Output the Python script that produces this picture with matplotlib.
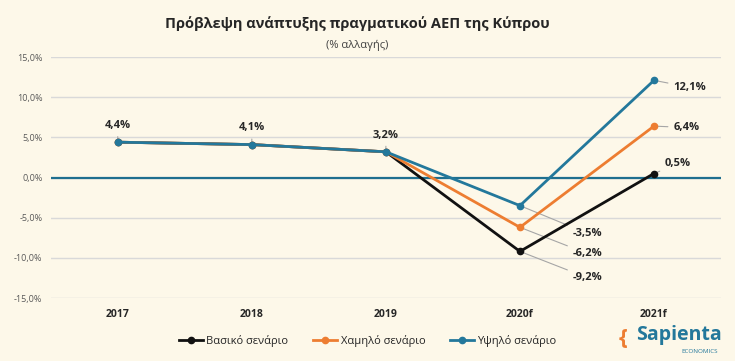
import numpy as np
import matplotlib.pyplot as plt

# --- data ---
years = ["2017", "2018", "2019", "2020f", "2021f"]
basic = [4.4, 4.1, 3.2, -9.2, 0.5]
low = [4.4, 4.1, 3.2, -6.2, 6.4]
high = [4.4, 4.1, 3.2, -3.5, 12.1]
yticks = [15, 10, 5, 0, -5, -10, -15]

bg = "#fdf8e9"
c_basic = "#111111"
c_low = "#ed7d31"
c_high = "#23789b"

plt.rcParams['font.family'] = ['Open Sans', 'DejaVu Sans']

fig = plt.figure(figsize=(7.35, 3.61), dpi=100, facecolor=bg)
ax = fig.add_axes([0.069, 0.1745, 0.912, 0.6675], facecolor=bg)

x = np.arange(len(years))
ax.plot(x, basic, c=c_basic, lw=2, marker='o', ms=4.5, label='Βασικό σενάριο', zorder=4)
ax.plot(x, low, c=c_low, lw=2, marker='o', ms=4.5, label='Χαμηλό σενάριο', zorder=4)
ax.plot(x, high, c=c_high, lw=2, marker='o', ms=4.5, label='Υψηλό σενάριο', zorder=5)

ax.set_xlim(-0.5, 4.5)
ax.set_ylim(-15, 15)
ax.set_yticks(yticks)
ax.set_yticklabels([f"{v:.1f}%".replace('.', ',') for v in yticks], fontsize=6.5, color='#595959')
ax.set_xticks(x)
ax.set_xticklabels(years, fontsize=7.5, fontweight='bold', color='#262626')
ax.tick_params(length=0)
ax.tick_params(axis='x', pad=8)
ax.tick_params(axis='y', pad=6)
for s in ax.spines.values():
    s.set_visible(False)
ax.grid(axis='y', color='#d9d9d9', lw=1)
ax.axhline(0, color='#1f6f8f', lw=1.6, zorder=3)

def fmt(v):
    return f"{v:.1f}%".replace('.', ',')

lbl = dict(fontsize=8, fontweight='bold', color='#262626')
arrow = dict(arrowstyle='-', color='#a6a6a6', lw=0.8)
# first three points (series coincide)
for i in range(3):
    ax.annotate(fmt(high[i]), (x[i], high[i]), xytext=(0, 8), textcoords='offset points',
                ha='center', va='bottom', arrowprops=arrow, **lbl)
# 2020f
ax.annotate(fmt(high[3]), (x[3], high[3]), xytext=(38, -20), textcoords='offset points',
            ha='left', va='center', arrowprops=arrow, **lbl)
ax.annotate(fmt(low[3]), (x[3], low[3]), xytext=(38, -19), textcoords='offset points',
            ha='left', va='center', arrowprops=arrow, **lbl)
ax.annotate(fmt(basic[3]), (x[3], basic[3]), xytext=(38, -19), textcoords='offset points',
            ha='left', va='center', arrowprops=arrow, **lbl)
# 2021f
ax.annotate(fmt(high[4]), (x[4], high[4]), xytext=(14, -5), textcoords='offset points',
            ha='left', va='center', arrowprops=arrow, **lbl)
ax.annotate(fmt(low[4]), (x[4], low[4]), xytext=(14, -1), textcoords='offset points',
            ha='left', va='center', arrowprops=arrow, **lbl)
ax.annotate(fmt(basic[4]), (x[4], basic[4]), xytext=(8, 7), textcoords='offset points',
            ha='left', va='center', arrowprops=arrow, **lbl)

fig.text(0.486, 0.935, "Πρόβλεψη ανάπτυξης πραγματικού ΑΕΠ της Κύπρου",
         ha='center', va='center', fontsize=10.5, fontweight='bold', color='#262626')
fig.text(0.486, 0.875, "(% αλλαγής)", ha='center', va='center', fontsize=8, color='#404040')

fig.legend(loc='center', bbox_to_anchor=(0.5, 0.055), ncol=3, frameon=False,
           fontsize=8, handlelength=2.2, columnspacing=2.2, handletextpad=0.3,
           labelcolor='#262626')

# logo text
fig.text(0.924, 0.072, "Sapienta", ha='center', va='center', fontsize=14,
         fontweight='bold', color='#23789b')
fig.text(0.952, 0.026, "ECONOMICS", ha='center', va='center', fontsize=4.5, color='#23789b')
fig.text(0.848, 0.062, "{", ha='center', va='center', fontsize=16, fontweight='bold', color=c_low)

fig.savefig("out.png", dpi=100, facecolor=bg)
